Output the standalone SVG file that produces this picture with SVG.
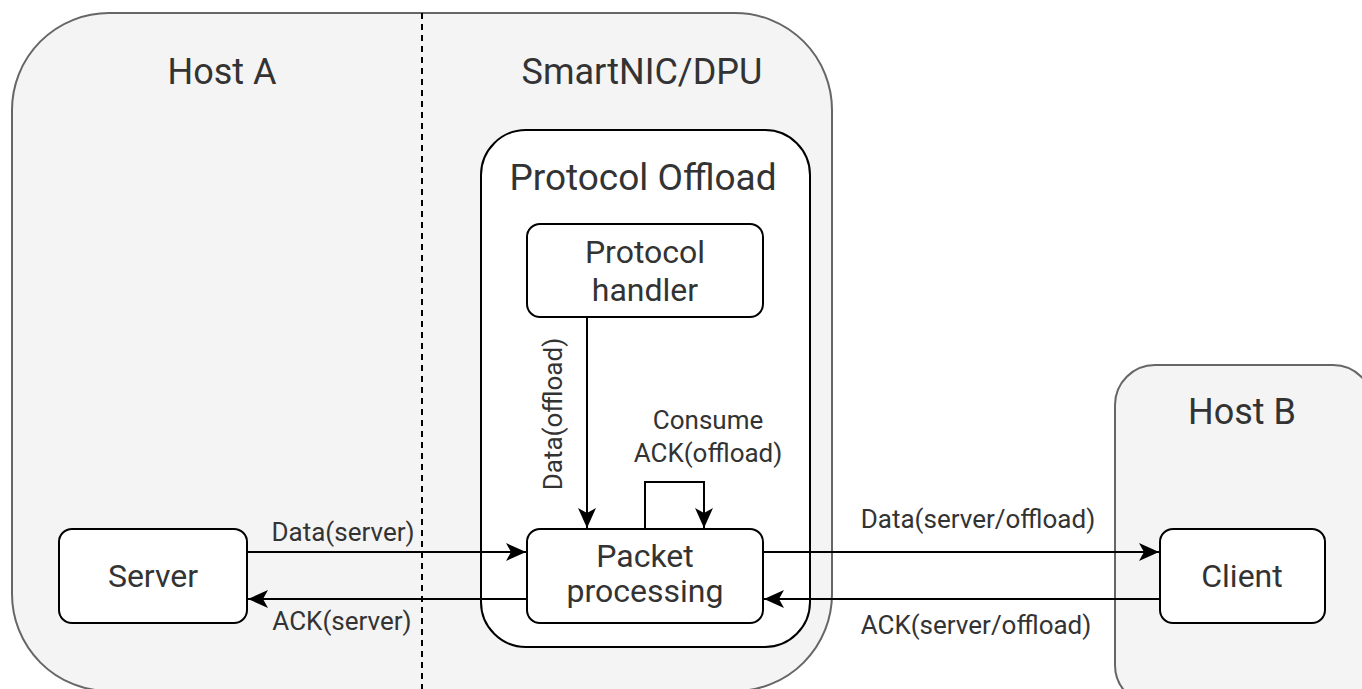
<svg xmlns="http://www.w3.org/2000/svg" width="1362" height="689" viewBox="0 0 1362 689">
  <style>
    .container { fill: #f4f4f4; stroke: #666666; stroke-width: 2; }
    .box { fill: #ffffff; stroke: #000000; stroke-width: 2; }
    .title { font-family: Roboto, "Liberation Sans", sans-serif; font-size: 36px; fill: #333333; text-anchor: middle; }
    .node-label { font-family: Roboto, "Liberation Sans", sans-serif; font-size: 32px; fill: #333333; text-anchor: middle; }
    .edge-label { font-family: Roboto, "Liberation Sans", sans-serif; font-size: 26px; fill: #333333; text-anchor: middle; }
    .edge { fill: none; stroke: #000000; stroke-width: 2; }
    .divider { fill: none; stroke: #000000; stroke-width: 2; stroke-dasharray: 6 5; }
  </style>
  <defs>
    <marker id="arrow" markerUnits="userSpaceOnUse" viewBox="0 0 20 18" markerWidth="20" markerHeight="18" refX="20" refY="9" orient="auto">
      <path d="M0,0 L20,9 L0,18 L5,9 Z" fill="#000000"/>
    </marker>
  </defs>

  <!-- Host A + SmartNIC/DPU shared enclosure -->
  <g id="host-a-smartnic">
    <rect class="container" x="12" y="13" width="820" height="678" rx="97" ry="97"/>
    <text class="title" x="222" y="84">Host A</text>
    <text class="title" x="642" y="84">SmartNIC/DPU</text>
  </g>
  <line class="divider" x1="422" y1="13" x2="422" y2="689"/>

  <!-- Host B -->
  <g id="host-b">
    <rect class="container" x="1115" y="365" width="258" height="340" rx="40" ry="40"/>
    <text class="title" x="1242" y="424">Host B</text>
  </g>

  <!-- Protocol Offload -->
  <g id="protocol-offload">
    <rect class="box" x="481" y="130" width="329" height="517" rx="45" ry="45"/>
    <text class="title" x="643" y="190" style="font-size:37px">Protocol Offload</text>
  </g>

  <g id="protocol-handler">
    <rect class="box" x="527" y="224" width="236" height="93" rx="13" ry="13"/>
    <text class="node-label" x="645" y="263">Protocol</text>
    <text class="node-label" x="645" y="301">handler</text>
  </g>

  <g id="packet-processing">
    <rect class="box" x="527" y="529" width="236" height="94" rx="13" ry="13"/>
    <text class="node-label" x="645" y="567">Packet</text>
    <text class="node-label" x="645" y="602">processing</text>
  </g>

  <g id="server">
    <rect class="box" x="59" y="529" width="188" height="94" rx="13" ry="13"/>
    <text class="node-label" x="153" y="587">Server</text>
  </g>

  <g id="client">
    <rect class="box" x="1160" y="529" width="165" height="94" rx="13" ry="13"/>
    <text class="node-label" x="1242" y="587">Client</text>
  </g>

  <!-- Connectors -->
  <g id="connectors">
    <path class="edge" d="M247,552 H526" marker-end="url(#arrow)"/>
    <path class="edge" d="M527,599 H248" marker-end="url(#arrow)"/>
    <path class="edge" d="M763,552 H1159" marker-end="url(#arrow)"/>
    <path class="edge" d="M1160,599 H764" marker-end="url(#arrow)"/>
    <path class="edge" d="M587,317 V528" marker-end="url(#arrow)"/>
    <path class="edge" d="M645,529 V482 H704 V528" marker-end="url(#arrow)"/>

    <text class="edge-label" x="343" y="541">Data(server)</text>
    <text class="edge-label" x="342" y="630">ACK(server)</text>
    <text class="edge-label" x="978" y="528">Data(server/offload)</text>
    <text class="edge-label" x="976" y="634">ACK(server/offload)</text>
    <text class="edge-label" transform="translate(562,414) rotate(-90)">Data(offload)</text>
    <text class="edge-label" x="708" y="429">Consume</text>
    <text class="edge-label" x="708" y="462">ACK(offload)</text>
  </g>
</svg>
